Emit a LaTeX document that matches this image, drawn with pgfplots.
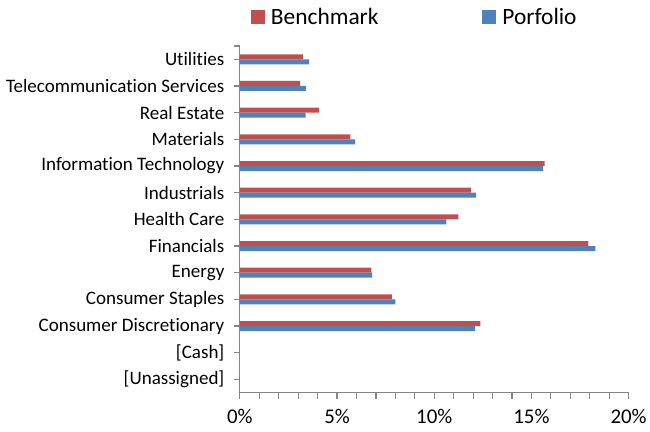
\documentclass[border=0pt]{standalone}
\usepackage{pgfplots}
\pgfplotsset{compat=1.18}
\usepackage{fontspec}
\setmainfont{Carlito}[Ligatures={NoCommon,NoRare,NoContextual}]
\definecolor{bench}{HTML}{C0504D}
\definecolor{port}{HTML}{4F81BD}
\definecolor{axisgray}{HTML}{868686}
\begin{document}
\begin{tikzpicture}
% page frame: 650 x 432
\path (-240bp,-39bp) rectangle (410bp,393bp);
\begin{axis}[
  at={(0,0)}, anchor=south west,
  scale only axis, width=389bp, height=347bp,
  xbar, bar width=5bp,
  xmin=0, xmax=20, ymin=-0.5, ymax=12.5,
  xtick={0,5,10,15,20}, minor xtick={1,2,3,4,6,7,8,9,11,12,13,14,16,17,18,19},
  xticklabel={\pgfmathprintnumber{\tick}\%},
  ytick={0,...,12},
  yticklabels={[Unassigned],[Cash],Consumer Discretionary,Consumer Staples,Energy,Financials,Health Care,Industrials,Information Technology,Materials,Real Estate,Telecommunication Services,Utilities},
  extra y ticks={12.5}, extra y tick labels={},
  axis x line*=bottom, axis y line*=left,
  axis line style={axisgray, line width=1.3bp},
  tick style={axisgray, line width=1.2bp},
  xtick align=outside, ytick align=outside,
  major tick length=6bp, minor tick length=6bp,
  /pgf/number format/assume math mode=true,
  yticklabel style={font=\fontsize{19.1}{20}\selectfont, text=black, xshift=-6bp},
  xticklabel style={font=\fontsize{21}{23}\selectfont, text=black, yshift=-7bp},
  legend columns=2,
  legend style={at={(0.45,1)}, anchor=south, yshift=16bp, draw=none,
    font=\fontsize{23.5}{26}\selectfont,
    /tikz/every even column/.append style={column sep=102bp}},
  legend image code/.code={\fill[#1] (0bp,-7bp) rectangle (14bp,7bp); \path (18bp,0bp);},
]
\addplot[draw=none, fill=bench, bar shift=2.5bp] coordinates {
  (0,0) (0,1) (12.38,2) (7.82,3) (6.77,4) (17.93,5) (11.24,6)
  (11.90,7) (15.68,8) (5.68,9) (4.08,10) (3.10,11) (3.24,12)
};
\addlegendentry{Benchmark}
\addplot[draw=none, fill=port, bar shift=-2.5bp] coordinates {
  (0,0) (0,1) (12.10,2) (8.00,3) (6.80,4) (18.29,5) (10.63,6)
  (12.15,7) (15.60,8) (5.93,9) (3.38,10) (3.40,11) (3.57,12)
};
\addlegendentry{Porfolio}
\end{axis}
\end{tikzpicture}
\end{document}
